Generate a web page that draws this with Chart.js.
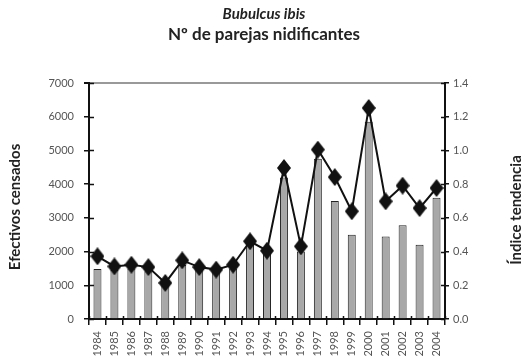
<!DOCTYPE html>
<html>
<head>
<meta charset="utf-8">
<script src="https://cdn.jsdelivr.net/npm/chart.js@4"></script>
<style>
  html, body { margin: 0; padding: 0; background: #fff; }
  #wrap { width: 528px; height: 364px; }
</style>
</head>
<body>
<div id="wrap"><canvas id="chart" width="528" height="364"></canvas></div>
<script>
const years = ['1984','1985','1986','1987','1988','1989','1990','1991','1992','1993','1994',
  '1995','1996','1997','1998','1999','2000','2001','2002','2003','2004'];
// breeding pairs counted each year
const pairs = [1480, 1450, 1500, 1420, 1000, 1600, 1450, 1400, 1500, 2200, 1950,
  4200, 2000, 4750, 3500, 2500, 5850, 2450, 2780, 2200, 3600];
// trend index
const trendIndex = [0.372, 0.312, 0.322, 0.308, 0.214, 0.348, 0.308, 0.293, 0.322, 0.461, 0.405,
  0.896, 0.431, 1.005, 0.842, 0.639, 1.252, 0.698, 0.791, 0.658, 0.777];

const FONT = 'Lato, "Open Sans", sans-serif';

// tall black diamond used as the point marker
function diamond(w, h) {
  const c = document.createElement('canvas');
  c.width = w; c.height = h;
  const g = c.getContext('2d');
  g.fillStyle = '#111';
  g.beginPath();
  g.moveTo(w / 2, 0);
  g.lineTo(w, h / 2);
  g.lineTo(w / 2, h);
  g.lineTo(0, h / 2);
  g.closePath();
  g.fill();
  return c;
}
const marker = diamond(14, 18);

// short tick stubs on the inner side of each axis line
const innerTicks = {
  id: 'innerTicks',
  afterDatasetsDraw(chart) {
    const { ctx, chartArea, scales } = chart;
    ctx.save();
    ctx.strokeStyle = '#111';
    ctx.lineWidth = 1.5;
    ctx.beginPath();
    scales.y.ticks.forEach(t => {
      const py = Math.round(scales.y.getPixelForValue(t.value)) + 0.5;
      ctx.moveTo(chartArea.left, py);
      ctx.lineTo(chartArea.left + 5, py);
    });
    scales.y1.ticks.forEach(t => {
      const py = Math.round(scales.y1.getPixelForValue(t.value)) + 0.5;
      ctx.moveTo(chartArea.right - 4, py);
      ctx.lineTo(chartArea.right, py);
    });
    const n = scales.x.ticks.length;
    for (let i = 0; i <= n; i++) {
      const px = Math.round(scales.x.getPixelForValue(i - 0.5)) + 0.5;
      ctx.moveTo(px, chartArea.bottom);
      ctx.lineTo(px, chartArea.bottom - 3);
    }
    ctx.stroke();
    ctx.restore();
  }
};

// headings and the two vertical axis titles
const labelsPlugin = {
  id: 'labels',
  afterDraw(chart) {
    const ctx = chart.ctx;
    ctx.save();
    ctx.fillStyle = '#222';
    ctx.textAlign = 'center';
    ctx.textBaseline = 'middle';
    ctx.font = 'italic bold 15px ' + FONT;
    ctx.fillText('Bubulcus ibis', 264, 14);
    ctx.font = 'bold 17px ' + FONT;
    ctx.fillText('Nº de parejas nidificantes', 264, 35);

    ctx.font = 'bold 15px ' + FONT;
    ctx.translate(15, 207);
    ctx.rotate(-Math.PI / 2);
    ctx.fillText('Efectivos censados', 0, 0);
    ctx.restore();

    ctx.save();
    ctx.fillStyle = '#222';
    ctx.textAlign = 'center';
    ctx.textBaseline = 'middle';
    ctx.font = 'bold 15px ' + FONT;
    ctx.translate(516, 210);
    ctx.rotate(-Math.PI / 2);
    ctx.fillText('Índice tendencia', 0, 0);
    ctx.restore();
  }
};

new Chart(document.getElementById('chart'), {
  type: 'bar',
  data: {
    labels: years,
    datasets: [
      {
        type: 'line',
        data: trendIndex,
        yAxisID: 'y1',
        order: 0,
        borderColor: '#111',
        borderWidth: 2,
        pointStyle: marker,
        pointRadius: 7,
        tension: 0
      },
      {
        type: 'bar',
        data: pairs,
        yAxisID: 'y',
        order: 1,
        backgroundColor: '#a8a8a8',
        borderColor: '#222',
        borderWidth: 1,
        categoryPercentage: 1,
        barPercentage: 0.47
      }
    ]
  },
  options: {
    responsive: false,
    animation: false,
    layout: { padding: { top: 83, left: 0, right: 0, bottom: 0 } },
    plugins: {
      legend: { display: false },
      tooltip: { enabled: false }
    },
    scales: {
      x: {
        afterFit: s => { s.height = 45; },
        grid: { drawOnChartArea: false, offset: true, color: '#111', tickLength: 6, lineWidth: 1.5 },
        border: { color: '#111', width: 2 },
        ticks: {
          minRotation: 90, maxRotation: 90, padding: 6,
          color: '#555', font: { family: FONT, size: 11 }
        }
      },
      y: {
        position: 'left',
        min: 0, max: 7000,
        afterFit: s => { s.width = 89; },
        grid: {
          drawOnChartArea: true, tickLength: 5,
          color: c => c.tick && c.tick.value === 7000 ? '#999' : 'rgba(0,0,0,0)',
          tickColor: '#111', lineWidth: c => c.tick && c.tick.value === 7000 ? 2 : 1.5
        },
        border: { color: '#111', width: 2 },
        ticks: {
          stepSize: 1000, padding: 10, color: '#555', font: { family: FONT, size: 11 },
          callback: v => String(v)
        }
      },
      y1: {
        position: 'right',
        min: 0, max: 1.4,
        afterFit: s => { s.width = 83; },
        grid: { drawOnChartArea: false, tickLength: 4, color: '#111', lineWidth: 1.5 },
        border: { color: '#111', width: 2 },
        ticks: {
          stepSize: 0.2, padding: 4, color: '#555', font: { family: FONT, size: 11 },
          callback: v => v.toFixed(1)
        }
      }
    }
  },
  plugins: [innerTicks, labelsPlugin]
});
</script>
</body>
</html>
